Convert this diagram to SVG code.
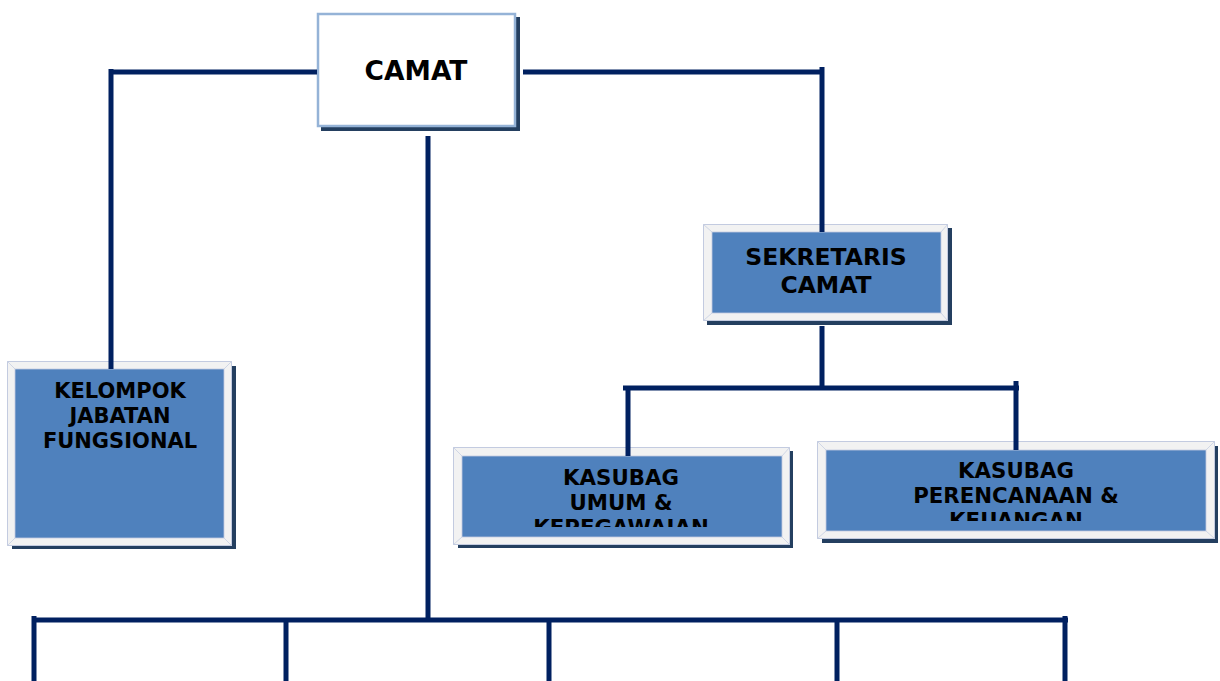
<svg xmlns="http://www.w3.org/2000/svg" width="1220" height="681" viewBox="0 0 1220 681">
<style>
.ln{stroke:#002060;stroke-width:5;fill:none}
.sh{fill:#243f60}
.fr{fill:#f2f2f2;stroke:#c3cbe0;stroke-width:1}
.in{fill:#4f81bd;stroke:#c3cbe0;stroke-width:0.8}
.dg{stroke:#cfd6e6;stroke-width:1}
.t{font-family:"DejaVu Sans",Verdana,sans-serif;font-weight:bold;fill:#000;text-anchor:middle}
</style>
<defs>
<clipPath id="cU"><rect x="462" y="456" width="320" height="71"/></clipPath>
<clipPath id="cP"><rect x="826" y="450" width="380" height="71"/></clipPath>
</defs>
<g id="camat">
<rect class="sh" x="321" y="17" width="199" height="114"/>
<rect x="318" y="14" width="197" height="112" fill="#fff" stroke="#95b3d7" stroke-width="2.5"/>
<text class="t" x="416" y="80" font-size="26.5">CAMAT</text>
</g>
<g id="sekretaris">
<rect class="sh" x="707" y="228" width="245" height="97"/>
<rect class="fr" x="703.5" y="224.5" width="244" height="96"/>
<path class="dg" d="M703.5 224.5L712 232M947.5 224.5L941 232M703.5 320.5L712 313M947.5 320.5L941 313"/>
<rect class="in" x="712" y="232" width="229" height="81"/>
<text class="t" x="826" y="265" font-size="23.5">SEKRETARIS</text>
<text class="t" x="826" y="293" font-size="23.5">CAMAT</text>
</g>
<g id="kelompok">
<rect class="sh" x="12" y="366" width="224" height="183"/>
<rect class="fr" x="7.5" y="361.5" width="224" height="184"/>
<path class="dg" d="M7.5 361.5L15 369M231.5 361.5L224 369M7.5 545.5L15 538M231.5 545.5L224 538"/>
<rect class="in" x="15" y="369" width="209" height="169"/>
<text class="t" x="120" y="398" font-size="21">KELOMPOK</text>
<text class="t" x="120" y="423" font-size="21">JABATAN</text>
<text class="t" x="120" y="448" font-size="21">FUNGSIONAL</text>
</g>
<g id="kasubag-umum">
<rect class="sh" x="458" y="451" width="335" height="97"/>
<rect class="fr" x="453.5" y="447.5" width="336" height="97"/>
<path class="dg" d="M453.5 447.5L462 456M789.5 447.5L782 456M453.5 544.5L462 537M789.5 544.5L782 537"/>
<rect class="in" x="462" y="456" width="320" height="81"/>
<g clip-path="url(#cU)">
<text class="t" x="621" y="485" font-size="21.3">KASUBAG</text>
<text class="t" x="621" y="510" font-size="21.3">UMUM &amp;</text>
<text class="t" x="621" y="535" font-size="21.3">KEPEGAWAIAN</text>
</g>
</g>
<g id="kasubag-perencanaan">
<rect class="sh" x="822" y="446" width="396" height="97"/>
<rect class="fr" x="817.5" y="441.5" width="397" height="97"/>
<path class="dg" d="M817.5 441.5L826 450M1214.5 441.5L1206 450M817.5 538.5L826 531M1214.5 538.5L1206 531"/>
<rect class="in" x="826" y="450" width="380" height="81"/>
<g clip-path="url(#cP)">
<text class="t" x="1016" y="478" font-size="21.3">KASUBAG</text>
<text class="t" x="1016" y="503" font-size="21.3">PERENCANAAN &amp;</text>
<text class="t" x="1016" y="528" font-size="21.3">KEUANGAN</text>
</g>
</g>
<g id="connectors">
<path class="ln" d="M110 72H317M523 72H824M111 69V369M822 67V232M428 136V622M822 326V390M623 388H1019M628 386V456M1016 381V450M32 620H1068M34 616V681M286 618V681M549 618V681M837 618V681M1065 616V681"/>
</g>
</svg>
